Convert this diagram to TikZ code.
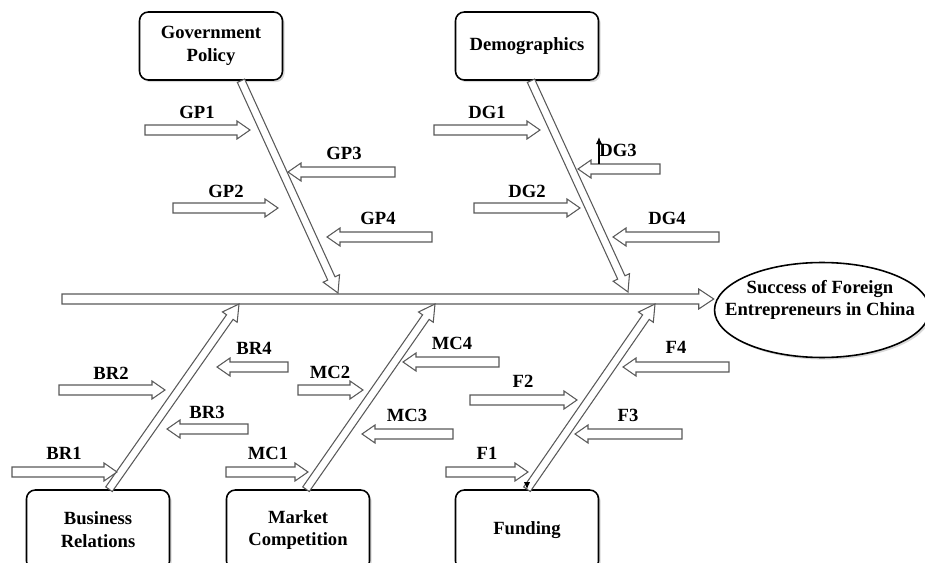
\documentclass[tikz,border=0pt]{standalone}
\usepackage{fontspec}
\setmainfont{Liberation Serif}
\usetikzlibrary{positioning, arrows.meta, calc, shapes.geometric, shadows}

% hollow block arrow: #1 tail, #2 tip, #3 half shaft, #4 half head, #5 head length
\newcommand{\fatarrow}[5]{%
  \draw[hollow] ($(#1)!#3!90:(#2)$)
    -- ($(#2)!#5!(#1)!#3!-90:(#1)$)
    -- ($(#2)!#5!(#1)!#4!-90:(#1)$)
    -- (#2)
    -- ($(#2)!#5!(#1)!#4!90:(#1)$)
    -- ($(#2)!#5!(#1)!#3!90:(#1)$)
    -- ($(#1)!#3!-90:(#2)$)
    -- cycle;}
\newcommand{\causearrow}[2]{\fatarrow{#1}{#2}{1mm}{1.8mm}{2.6mm}}
\newcommand{\bonearrow}[2]{\fatarrow{#1}{#2}{0.8mm}{1.8mm}{3.2mm}}

\begin{document}
\begin{tikzpicture}[
  x=0.02cm, y=-0.02cm,
  category/.style={
    draw=black,
    line width=0.9pt,
    rounded corners=5pt,
    fill=white,
    minimum width=2.86cm,
    minimum height=1.36cm,
    align=center,
    font=\fontsize{10.6}{13}\selectfont\bfseries,
    drop shadow={shadow xshift=1.2pt, shadow yshift=-1.2pt, opacity=0.3}
  },
  catbottom/.style={
    category,
    minimum height=1.6cm
  },
  goalshape/.style={
    ellipse,
    draw=black,
    line width=0.9pt,
    fill=white,
    minimum width=4.3cm,
    minimum height=1.9cm,
    drop shadow={shadow xshift=1.2pt, shadow yshift=-1.2pt, opacity=0.3}
  },
  goaltext/.style={
    align=center,
    font=\fontsize{10.6}{13}\selectfont\bfseries
  },
  causelabel/.style={
    inner sep=0pt,
    font=\fontsize{10.6}{13}\selectfont\bfseries
  },
  hollow/.style={
    draw=black!65,
    fill=white,
    line width=0.6pt,
    line join=miter
  },
  stray/.style={
    -{Latex[length=4pt,width=3.5pt]},
    line width=0.6pt
  }
]
\useasboundingbox (0,0) rectangle (925,563);

\node[goalshape] (goal) at (822,310) {};
\node[goaltext] (goalname) at (820,300) {Success of Foreign\\Entrepreneurs in China};

\coordinate (tail) at (62,299);
\coordinate (head) at (goal.west |- tail);
\fatarrow{tail}{head}{1mm}{2mm}{3mm}

\node[category]  (gp) at (211,46)  {Government\\Policy};
\node[category]  (dg) at (527,46)  {Demographics};
\node[catbottom] (br) at (98,530)  {Business\\Relations};
\node[catbottom] (mc) at (298,530) {Market\\Competition};
\node[catbottom] (fd) at (527,530) {Funding};

\coordinate (gpbase) at ($(gp.south)+(30,0)$);
\coordinate (dgbase) at ($(dg.south)+(4,0)$);
\coordinate (brbase) at ($(br.north)+(11,0)$);
\coordinate (mcbase) at ($(mc.north)+(8,0)$);
\coordinate (fdbase) at (fd.north);
\coordinate (gptip) at (338,293);
\coordinate (dgtip) at (628,292);
\coordinate (brtip) at (239,304);
\coordinate (mctip) at (435,304);
\coordinate (fdtip) at (655,304);

\bonearrow{gpbase}{gptip}
\bonearrow{dgbase}{dgtip}
\bonearrow{brbase}{brtip}
\bonearrow{mcbase}{mctip}
\bonearrow{fdbase}{fdtip}

% government policy
\node[causelabel] (gp1) at (197,112) {GP1};
\node[causelabel] (gp2) at (226,191) {GP2};
\node[causelabel] (gp3) at (344,153) {GP3};
\node[causelabel] (gp4) at (378,218) {GP4};
\coordinate (gp1s) at (145,130); \coordinate (gp1t) at (250,130);
\coordinate (gp2s) at (173,208); \coordinate (gp2t) at (278,208);
\coordinate (gp3s) at (395,172); \coordinate (gp3t) at (288,172);
\coordinate (gp4s) at (432,237); \coordinate (gp4t) at (327,237);
\causearrow{gp1s}{gp1t}
\causearrow{gp2s}{gp2t}
\causearrow{gp3s}{gp3t}
\causearrow{gp4s}{gp4t}

% demographics
\node[causelabel] (dg1) at (487,112) {DG1};
\node[causelabel] (dg2) at (527,191) {DG2};
\node[causelabel] (dg3) at (618,150) {DG3};
\node[causelabel] (dg4) at (667,218) {DG4};
\coordinate (dg1s) at (434,130); \coordinate (dg1t) at (540,130);
\coordinate (dg2s) at (474,208); \coordinate (dg2t) at (580,208);
\coordinate (dg3s) at (660,169); \coordinate (dg3t) at (578,169);
\coordinate (dg4s) at (719,237); \coordinate (dg4t) at (613,237);
\causearrow{dg1s}{dg1t}
\causearrow{dg2s}{dg2t}
\causearrow{dg3s}{dg3t}
\causearrow{dg4s}{dg4t}
\coordinate (dgmarka) at (599,164);
\coordinate (dgmarkb) at (599,137);
\draw[stray] (dgmarka) -- (dgmarkb);

% business relations
\node[causelabel] (br1) at (64,453)  {BR1};
\node[causelabel] (br2) at (111,373) {BR2};
\node[causelabel] (br3) at (207,412) {BR3};
\node[causelabel] (br4) at (254,348) {BR4};
\coordinate (br1s) at (12,472);  \coordinate (br1t) at (117,472);
\coordinate (br2s) at (59,390);  \coordinate (br2t) at (165,390);
\coordinate (br3s) at (248,429); \coordinate (br3t) at (167,429);
\coordinate (br4s) at (288,367); \coordinate (br4t) at (217,367);
\causearrow{br1s}{br1t}
\causearrow{br2s}{br2t}
\causearrow{br3s}{br3t}
\causearrow{br4s}{br4t}

% market competition
\node[causelabel] (mc1) at (268,453) {MC1};
\node[causelabel] (mc2) at (330,372) {MC2};
\node[causelabel] (mc3) at (407,415) {MC3};
\node[causelabel] (mc4) at (452,343) {MC4};
\coordinate (mc1s) at (226,472); \coordinate (mc1t) at (308,472);
\coordinate (mc2s) at (298,390); \coordinate (mc2t) at (363,390);
\coordinate (mc3s) at (453,434); \coordinate (mc3t) at (362,434);
\coordinate (mc4s) at (499,362); \coordinate (mc4t) at (403,362);
\causearrow{mc1s}{mc1t}
\causearrow{mc2s}{mc2t}
\causearrow{mc3s}{mc3t}
\causearrow{mc4s}{mc4t}

% funding
\node[causelabel] (f1) at (487,453) {F1};
\node[causelabel] (f2) at (523,381) {F2};
\node[causelabel] (f3) at (628,415) {F3};
\node[causelabel] (f4) at (676,347) {F4};
\coordinate (f1s) at (446,472); \coordinate (f1t) at (528,472);
\coordinate (f2s) at (470,400); \coordinate (f2t) at (577,400);
\coordinate (f3s) at (682,434); \coordinate (f3t) at (575,434);
\coordinate (f4s) at (729,367); \coordinate (f4t) at (623,367);
\causearrow{f1s}{f1t}
\causearrow{f2s}{f2t}
\causearrow{f3s}{f3t}
\causearrow{f4s}{f4t}
\coordinate (fdmark) at (527,482);
\draw[stray] (fdmark) -- (fd.north);

\end{tikzpicture}
\end{document}
